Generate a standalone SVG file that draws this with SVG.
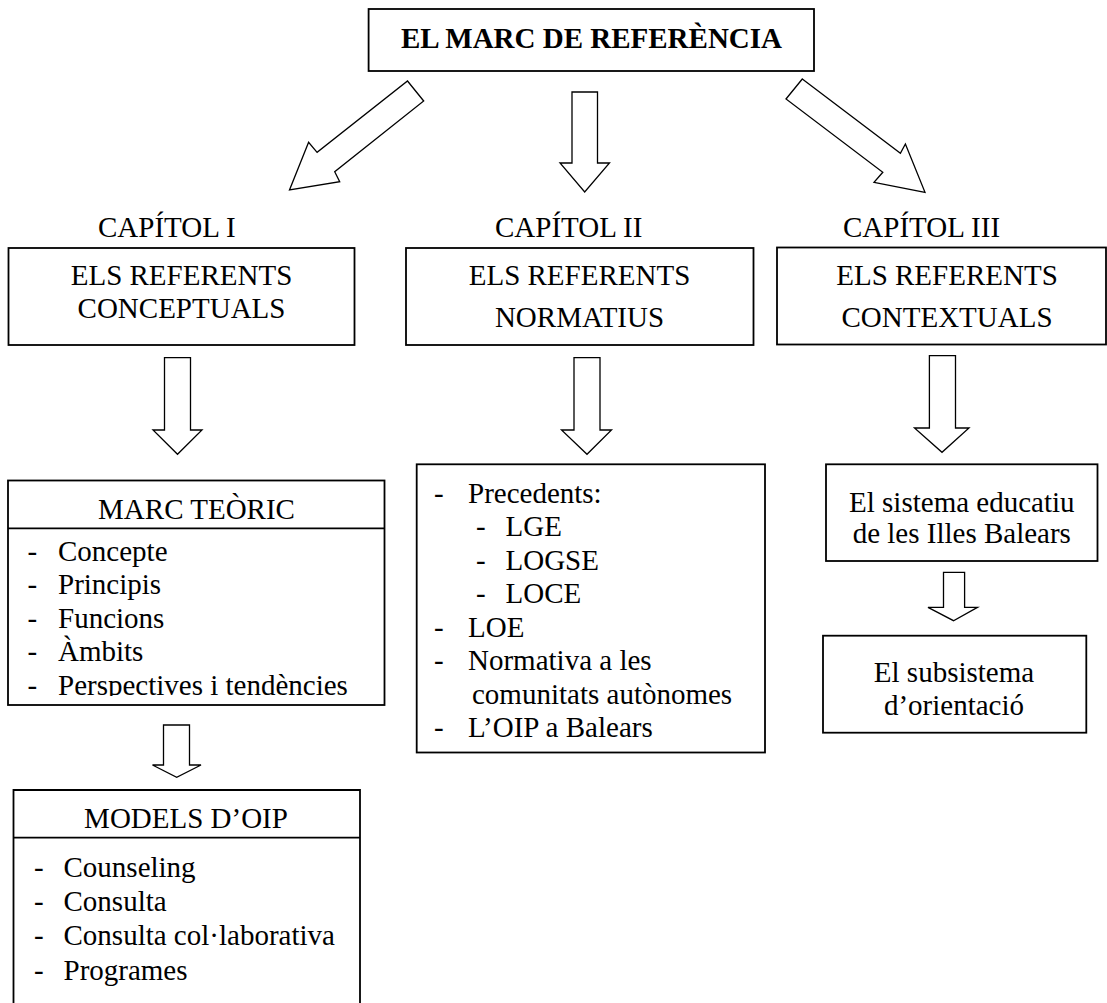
<svg xmlns="http://www.w3.org/2000/svg" width="1107" height="1003" viewBox="0 0 1107 1003">
  <style>
    text { font-size: 29px; fill: #000; }
    .title { font-weight: bold; }
    .mid { text-anchor: middle; }
    .box { fill: #fff; stroke: #000; stroke-width: 1.8; }
    .rule { stroke: #000; stroke-width: 1.8; fill: none; }
    .arrow { fill: #fff; stroke: #000; stroke-width: 1.3; stroke-linejoin: miter; }
  </style>
  <defs>
    <clipPath id="clipTeoric">
      <rect x="8" y="528" width="376" height="168"/>
    </clipPath>
  </defs>

  <rect width="1107" height="1003" fill="#fff"/>

  <!-- hollow block arrows -->
  <g id="connectors">
    <polygon class="arrow" points="407.5,81 423.7,101 334.7,171.7 339.7,181.7 289.5,190 308.6,142.3 317.1,152.3"/>
    <polygon class="arrow" points="572,92 597.5,92 597.5,163 609.5,163 584.7,192 560,163 572,163"/>
    <polygon class="arrow" points="802.3,79 900.4,153.3 905.4,144 925,192.3 874,182.3 882.8,172.3 786,99"/>

    <polygon class="arrow" points="164.5,357.7 190.5,357.7 190.5,430 202,430 177.5,454.3 153,430 164.5,430"/>
    <polygon class="arrow" points="574,357.7 600,357.7 600,430 611.5,430 587,454.3 561.5,430 574,430"/>
    <polygon class="arrow" points="929.4,355.7 955.5,355.7 955.5,428 969,428 942,452.3 914.5,428 929.4,428"/>

    <polygon class="arrow" points="163.5,725 189.5,725 189.5,765 201,765 176.7,777.3 152.5,765 163.5,765"/>
    <polygon class="arrow" points="943.5,572.3 964.6,572.3 964.6,607.3 977.5,607.3 953.5,620.7 928,607.3 943.5,607.3"/>
  </g>

  <g font-family="Liberation Serif, Tinos, DejaVu Serif, serif">
  <g id="marc-referencia">
    <rect class="box" x="368.6" y="9" width="445.4" height="62"/>
    <text class="title mid" x="591.5" y="48">EL MARC DE REFERÈNCIA</text>
  </g>

  <g id="capitol-1">
    <text x="98" y="236.7">CAPÍTOL I</text>
    <rect class="box" x="8.5" y="248" width="346" height="97"/>
    <text class="mid" x="181.5" y="285">ELS REFERENTS</text>
    <text class="mid" x="181.5" y="318">CONCEPTUALS</text>
  </g>

  <g id="capitol-2">
    <text x="495" y="236.7">CAPÍTOL II</text>
    <rect class="box" x="406" y="248" width="347.5" height="97"/>
    <text class="mid" x="579.5" y="285">ELS REFERENTS</text>
    <text class="mid" x="579.5" y="326.5">NORMATIUS</text>
  </g>

  <g id="capitol-3">
    <text x="843" y="236.7">CAPÍTOL III</text>
    <rect class="box" x="777" y="247.5" width="329" height="97"/>
    <text class="mid" x="947" y="285">ELS REFERENTS</text>
    <text class="mid" x="947" y="326.5">CONTEXTUALS</text>
  </g>

  <g id="marc-teoric">
    <rect class="box" x="8" y="480.5" width="376.5" height="224.5"/>
    <line class="rule" x1="8" y1="528.3" x2="384.5" y2="528.3"/>
    <text class="mid" x="196.5" y="519">MARC TEÒRIC</text>
    <g clip-path="url(#clipTeoric)">
      <text x="27.5" y="560.5">-</text><text x="58" y="560.5">Concepte</text>
      <text x="27.5" y="594">-</text><text x="58" y="594">Principis</text>
      <text x="27.5" y="627.5">-</text><text x="58" y="627.5">Funcions</text>
      <text x="27.5" y="661">-</text><text x="58" y="661">Àmbits</text>
      <text x="27.5" y="694.5">-</text><text x="58" y="694.5">Perspectives i tendències</text>
    </g>
  </g>

  <g id="models-oip">
    <path class="rule" d="M13.5,1003 V790 H360 V1003"/>
    <line class="rule" x1="13.5" y1="837.7" x2="360" y2="837.7"/>
    <text class="mid" x="186" y="828.3">MODELS D’OIP</text>
    <text x="34" y="877">-</text><text x="63.5" y="877">Counseling</text>
    <text x="34" y="911">-</text><text x="63.5" y="911">Consulta</text>
    <text x="34" y="945">-</text><text x="63.5" y="945">Consulta col·laborativa</text>
    <text x="34" y="979.5">-</text><text x="63.5" y="979.5">Programes</text>
  </g>

  <g id="normativa">
    <rect class="box" x="416.7" y="464.3" width="348.3" height="288.2"/>
    <text x="434" y="502.5">-</text><text x="468" y="502.5">Precedents:</text>
    <text x="476" y="536">-</text><text x="505.5" y="536">LGE</text>
    <text x="476" y="569.5">-</text><text x="505.5" y="569.5">LOGSE</text>
    <text x="476" y="603">-</text><text x="505.5" y="603">LOCE</text>
    <text x="434" y="636.5">-</text><text x="468" y="636.5">LOE</text>
    <text x="434" y="670">-</text><text x="468" y="670">Normativa a les</text>
    <text x="472" y="703.5">comunitats autònomes</text>
    <text x="434" y="737">-</text><text x="468" y="737">L’OIP a Balears</text>
  </g>

  <g id="sistema-educatiu">
    <rect class="box" x="826" y="464.3" width="271.5" height="96.7"/>
    <text class="mid" x="961.8" y="511.7">El sistema educatiu</text>
    <text class="mid" x="961.8" y="543.3">de les Illes Balears</text>
  </g>

  <g id="subsistema-orientacio">
    <rect class="box" x="823" y="635.7" width="263.3" height="97"/>
    <text class="mid" x="954" y="681.7">El subsistema</text>
    <text class="mid" x="954" y="715">d’orientació</text>
  </g>
  </g>
</svg>
